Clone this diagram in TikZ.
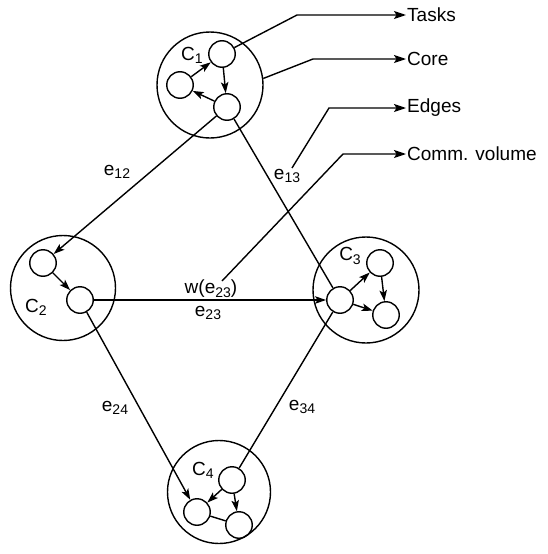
\documentclass[tikz,border=0pt]{standalone}
\usepackage{fontspec}
\setmainfont{Liberation Sans}
\usetikzlibrary{arrows.meta}
\newcommand\sbs[1]{\raisebox{-0.32ex}{\fontsize{14}{15}\selectfont #1}}
\begin{document}
\begin{tikzpicture}[x=1pt,y=-1pt,
  cluster/.style={circle,draw,line width=1.4pt,inner sep=0pt},
  task/.style={circle,draw,line width=1.4pt,inner sep=0pt,minimum size=26.5pt},
  lbl/.style={inner sep=0pt,font=\fontsize{19}{21}\selectfont},
  conn/.style={line width=1.4pt},
  arr/.style={conn,-{Stealth[length=11pt,width=7.5pt,inset=2.5pt]}},
  ann/.style={conn,-{Stealth[length=12pt,width=8pt,inset=2.5pt]},shorten >=1pt}]
\useasboundingbox (0,0) rectangle (548,554);
% clusters
\node[cluster,minimum size=106pt] (cl1) at (210,85) {};
\node[cluster,minimum size=105pt] (cl2) at (63,288) {};
\node[cluster,minimum size=106pt] (cl3) at (366,290) {};
\node[cluster,minimum size=103pt] (cl4) at (219,492) {};
% tasks
\node[task] (t11) at (222,54) {};
\node[task] (t12) at (180,85) {};
\node[task] (t13) at (227,107) {};
\node[task] (t21) at (43,263) {};
\node[task] (t22) at (80,300) {};
\node[task] (t31) at (340,300) {};
\node[task] (t32) at (380,263) {};
\node[task] (t33) at (386,315) {};
\node[task] (t41) at (232,480) {};
\node[task] (t42) at (197,512) {};
\node[task] (t43) at (239,525) {};
% cluster labels
\node[lbl] (c1) at (192,55) {C\sbs{1}};
\node[lbl] (c2) at (36,307) {C\sbs{2}};
\node[lbl] (c3) at (350,256) {C\sbs{3}};
\node[lbl] (c4) at (203,470) {C\sbs{4}};
% inner arrows
\draw[arr] (t11) -- (t13);
\draw[arr] (t13) -- (t12);
\draw[arr] (t12) -- (t11);
\draw[arr] (t21) -- (t22);
\draw[arr] (t31) -- (t32);
\draw[arr] (t32) -- (t33);
\draw[arr] (t31) -- (t33);
\draw[arr] (t41) -- (t42);
\draw[arr] (t41) -- (t43);
\draw[conn] (t42) -- (t43);
% inter-cluster edges
\draw[arr] (t13) -- (t21);
\draw[conn] (t13) -- (t31);
\draw[arr] (t22) -- (t31);
\draw[arr] (t22) -- (t42);
\draw[conn] (t31) -- (t41);
% edge labels
\node[lbl] (l12) at (117,172) {e\sbs{12}};
\node[lbl] (l13) at (287,176) {e\sbs{13}};
\node[lbl] (lw23) at (211,289) {w(e\sbs{23})};
\node[lbl] (l23) at (208,313) {e\sbs{23}};
\node[lbl] (l24) at (115,408) {e\sbs{24}};
\node[lbl] (l34) at (302,407) {e\sbs{34}};
% annotation texts
\node[lbl,anchor=west] (tasks) at (407,15) {Tasks};
\node[lbl,anchor=west] (core) at (407,59) {Core};
\node[lbl,anchor=west] (edges) at (407,108) {Edges};
\node[lbl,anchor=west] (comm) at (407,154) {Comm. volume};
% annotation connectors
\coordinate (b1) at (297,15);
\coordinate (b2) at (313,59);
\coordinate (b3) at (329,108);
\coordinate (b4) at (343,154);
\coordinate (s3) at (292,168);
\coordinate (s4) at (222,281);
\draw[ann] (t11) -- (b1) -- (tasks.west);
\draw[ann] (cl1.7) -- (b2) -- (core.west);
\draw[ann] (s3) -- (b3) -- (edges.west);
\draw[ann] (s4) -- (b4) -- (comm.west);
\end{tikzpicture}
\end{document}
